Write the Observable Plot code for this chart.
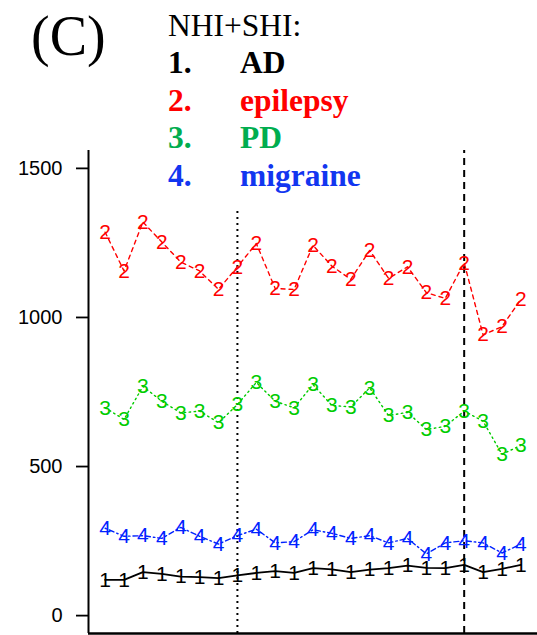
<!DOCTYPE html>
<html>
<head>
<meta charset="utf-8">
<script src="https://cdn.jsdelivr.net/npm/d3@7"></script>
<script src="https://cdn.jsdelivr.net/npm/@observablehq/plot@0.6"></script>
<style>
  html, body { margin: 0; padding: 0; background: #fff; }
  #wrap { position: relative; width: 537px; height: 635px; overflow: hidden; }
  #title { position: absolute; left: 31px; top: 8px; font-family: "Liberation Serif", "Times New Roman", serif; font-size: 56px; color: #000; line-height: 1; }
  #legend { position: absolute; left: 155px; top: 0px; width: 225px; height: 210px; background: #fff;
            font-family: "Liberation Serif", "Times New Roman", serif; font-size: 31.5px; }
  #legend .row { position: absolute; left: 13px; white-space: nowrap; line-height: 1; }
  #legend .num { display: inline-block; width: 72px; font-weight: bold; }
  #legend .lab { font-weight: bold; }
</style>
</head>
<body>
<div id="wrap">
  <div id="chart"></div>
  <div id="title">(C)</div>
  <div id="legend"></div>
</div>
<script>
// ---- data ----
const periods = [1, 2, 3, 4, 5, 6, 7, 8, 9, 10, 11, 12, 13, 14, 15, 16, 17, 18, 19, 20, 21, 22, 23];
const ad       = [120, 120, 146, 140, 131, 129, 126, 135, 143, 149, 143, 159, 155, 146, 154, 159, 168, 160, 159, 170, 146, 157, 170];
const epilepsy = [1286, 1156, 1320, 1253, 1186, 1156, 1094, 1170, 1248, 1097, 1094, 1242, 1172, 1128, 1225, 1131, 1170, 1083, 1064, 1183, 942, 969, 1061];
const pd       = [697, 658, 769, 719, 680, 686, 647, 708, 782, 719, 697, 775, 705, 700, 764, 671, 682, 624, 635, 686, 652, 541, 571];
const migraine = [293, 266, 268, 259, 296, 266, 240, 268, 290, 244, 248, 288, 276, 259, 268, 244, 259, 207, 244, 251, 244, 210, 240];
const yTicks = [0, 500, 1000, 1500];
const dottedAt = [8];
const dashedAt = [20];
const legendTitle = "NHI+SHI:";
const legendNums = ["1.", "2.", "3.", "4."];
const legendLabels = ["AD", "epilepsy", "PD", "migraine"];
const seriesKeys = ["1", "2", "3", "4"];

const xDomain = [0.12, 23.88];
const yDomain = [-60, 1560];

const lineColors = ["#000000", "#FF0000", "#00CC00", "#0022FF"];
const legendColors = ["#000000", "#FF0000", "#00AD4F", "#1236F0"];
const dashes = [null, "4,4", "1.5,3.5", "1.5,3,5,3"];
const widths = [1.8, 1.4, 1.4, 1.4];

const seriesValues = [ad, epilepsy, pd, migraine];
const rows = seriesValues.map(vals => periods.map((t, i) => ({t, v: vals[i]})));

const marks = [
  Plot.axisY(yTicks, {tickSize: 12, tickPadding: 14, fontSize: 20, strokeWidth: 1.8, label: null, tickFormat: d => String(d)}),
  Plot.ruleX([xDomain[0]], {y1: yDomain[0], y2: yDomain[1], strokeWidth: 2}),
  Plot.ruleY([yDomain[0]], {strokeWidth: 2.5}),
  Plot.ruleX(dottedAt, {y1: yDomain[0], y2: yDomain[1], strokeWidth: 2, strokeDasharray: "2,4"}),
  Plot.ruleX(dashedAt, {y1: yDomain[0], y2: yDomain[1], strokeWidth: 2, strokeDasharray: "7,5"})
];
rows.forEach((data, k) => {
  const opts = {x: "t", y: "v", stroke: lineColors[k], strokeWidth: widths[k]};
  if (dashes[k]) opts.strokeDasharray = dashes[k];
  marks.push(Plot.line(data, opts));
});
rows.forEach((data, k) => {
  marks.push(Plot.text(data, {x: "t", y: "v", text: () => seriesKeys[k], fill: lineColors[k],
    fontSize: 21, fontFamily: "Liberation Sans, Arial, sans-serif"}));
});

const chart = Plot.plot({
  width: 537,
  height: 635,
  marginTop: 150,
  marginBottom: 2,
  marginLeft: 88,
  marginRight: 0,
  style: {fontFamily: "Liberation Sans, Arial, sans-serif", color: "#000", background: "#fff"},
  x: {domain: xDomain, axis: null},
  y: {domain: yDomain, axis: null},
  marks
});
document.getElementById("chart").appendChild(chart);

// legend
const leg = document.getElementById("legend");
const baselines = [36.5, 74, 111.5, 149, 186.5];
function addRow(html, baseline) {
  const d = document.createElement("div");
  d.className = "row";
  d.innerHTML = html;
  d.style.top = (baseline - 27) + "px";
  leg.appendChild(d);
}
addRow(`<span style="color:#000">${legendTitle}</span>`, baselines[0]);
legendNums.forEach((n, i) => {
  addRow(`<span class="num" style="color:${legendColors[i]}">${n}</span><span class="lab" style="color:${legendColors[i]}">${legendLabels[i]}</span>`, baselines[i + 1]);
});
</script>
</body>
</html>
